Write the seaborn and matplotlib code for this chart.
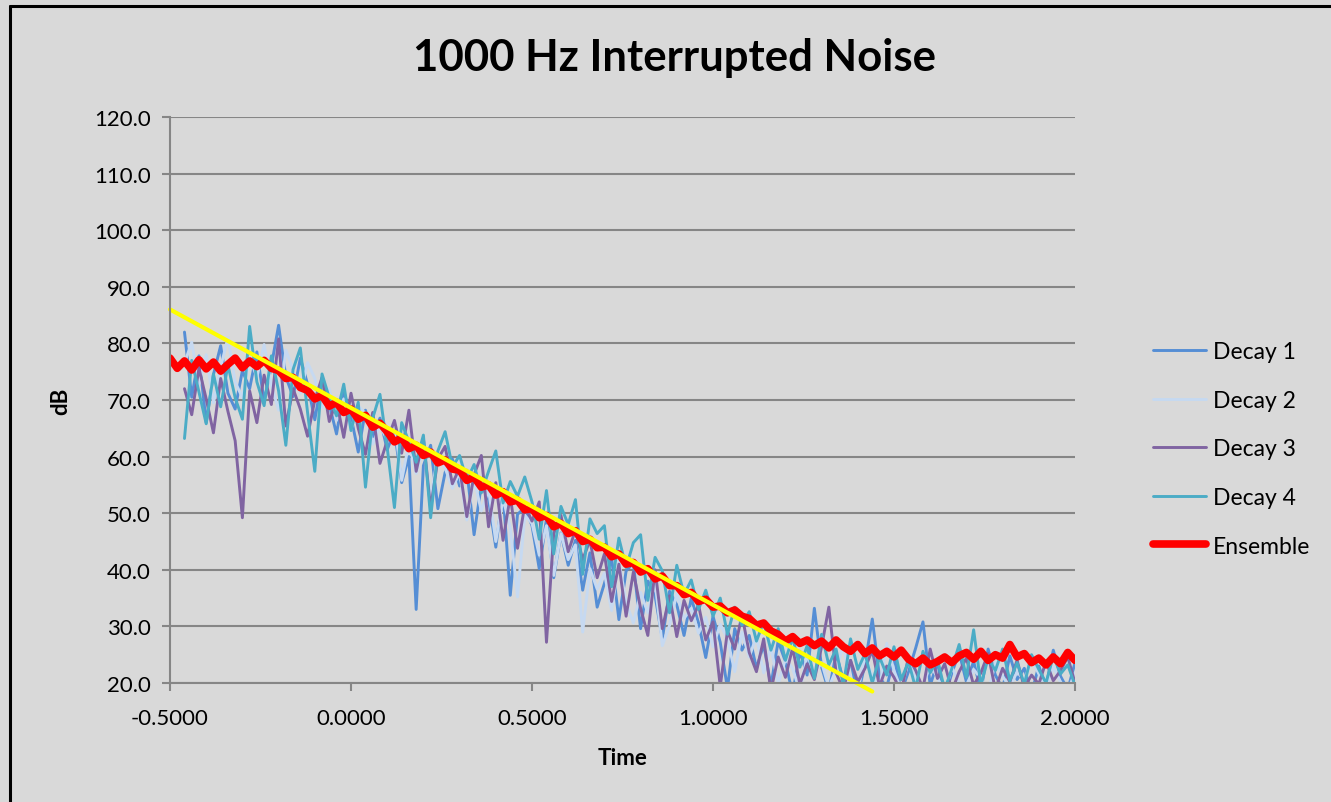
import numpy as np
import pandas as pd
import matplotlib
matplotlib.use("Agg")
import matplotlib.pyplot as plt
from matplotlib.lines import Line2D
from matplotlib.ticker import FormatStrFormatter
import seaborn as sns

# time grid (s), sampled every 0.02 s; the decays start at -0.46 s
time = np.round(np.arange(-0.50, 2.001, 0.02), 2)

decay_1 = [82.0, 70.5, 77.8, 66.0, 74.5, 79.6, 71.2, 68.4,
           75.2, 72.0, 78.5, 69.8, 76.0, 83.2, 74.1, 70.6, 77.4, 72.8,
           66.5, 73.8, 69.2, 64.0, 71.5, 67.0, 60.8, 68.2, 63.5, 66.8,
           61.2, 64.6, 55.4, 60.0, 33.0, 58.4, 62.0, 50.8, 57.2, 59.6,
           54.8, 57.6, 46.2, 55.0, 52.4, 44.0, 53.6, 35.5, 49.8, 51.0,
           47.8, 40.2, 49.0, 38.6, 46.5, 40.8, 45.2, 36.4, 43.0, 33.4,
           37.6, 42.0, 31.2, 39.8, 41.2, 29.6, 38.0, 35.4, 27.8, 36.2,
           33.8, 28.4, 35.0, 30.6, 24.5, 31.8, 27.2, 19.0, 29.6, 25.8,
           28.4, 22.6, 26.8, 19.5, 27.4, 23.8, 18.0, 25.6, 21.4, 33.2,
           22.8, 18.5, 25.2, 20.6, 24.0, 17.8, 23.4, 31.3, 21.0, 19.2,
           24.6, 18.4, 22.0, 26.2, 30.8, 19.6, 23.6, 17.5, 21.8, 25.4,
           20.2, 23.8, 18.6, 26.0, 21.4, 19.0, 24.8, 20.6, 22.6, 18.2,
           23.0, 19.4, 25.8, 21.2, 18.8, 23.6]

decay_2 = [76.5, 80.2, 72.8, 78.0, 69.5, 75.8, 81.0, 73.2,
           70.4, 77.6, 74.0, 79.8, 72.6, 68.2, 78.8, 75.4, 71.2, 76.6,
           73.8, 68.6, 72.0, 66.4, 70.2, 64.8, 69.0, 67.6, 62.2, 65.4,
           63.0, 66.2, 55.8, 62.4, 57.0, 61.8, 52.6, 60.2, 58.0, 54.4,
           57.2, 48.8, 56.0, 50.4, 54.2, 45.0, 52.6, 47.4, 35.2, 49.6,
           48.2, 42.6, 47.8, 39.0, 46.4, 41.8, 44.4, 29.0, 40.2, 36.6,
           39.4, 32.8, 41.6, 34.2, 30.6, 36.0, 32.4, 37.8, 26.6, 30.2,
           35.8, 31.4, 33.2, 28.8, 31.6, 26.4, 30.4, 27.8, 22.0, 29.0,
           24.6, 28.2, 21.8, 26.4, 19.8, 24.2, 22.6, 18.4, 25.0, 21.6,
           23.6, 19.2, 22.4, 26.6, 20.4, 18.6, 24.8, 21.2, 19.0, 27.0,
           22.2, 18.8, 24.0, 20.6, 19.4, 23.2, 21.0, 18.2, 22.8, 20.0,
           19.6, 22.4, 20.8, 18.4, 23.6, 21.2, 19.2, 22.0, 20.4, 24.2,
           21.6, 19.0, 22.8, 20.2, 18.6, 21.8]

decay_3 = [72.0, 67.4, 75.6, 70.2, 64.2, 73.8, 68.0, 62.8,
           49.2, 71.6, 66.0, 74.4, 69.2, 80.8, 65.4, 72.0, 68.4, 63.6,
           70.0, 74.0, 66.2, 69.8, 63.4, 71.2, 65.0, 60.4, 67.8, 58.8,
           62.8, 66.4, 60.6, 68.2, 57.4, 63.2, 50.8, 59.6, 61.8, 55.2,
           58.0, 49.4, 56.8, 60.2, 47.6, 55.4, 45.2, 53.0, 43.8, 51.4,
           48.6, 52.0, 27.2, 46.4, 49.6, 43.2, 47.0, 41.8, 45.2, 38.6,
           42.8, 34.4, 41.0, 31.8, 39.6, 33.2, 28.4, 40.0, 29.6, 35.4,
           28.2, 34.6, 31.0, 33.8, 27.6, 30.8, 19.4, 29.2, 26.0, 32.0,
           25.4, 22.0, 27.8, 18.6, 24.6, 21.0, 26.2, 19.8, 23.4, 20.6,
           26.4, 33.4, 21.8, 18.8, 24.0, 20.2, 22.6, 25.8, 19.4, 23.0,
           21.0, 18.4, 24.6, 22.2, 19.0, 26.0, 20.8, 23.4, 18.6, 22.0,
           24.4, 19.6, 21.8, 25.2, 18.8, 22.6, 20.2, 24.0, 19.2, 21.4,
           19.8, 23.8, 20.4, 22.2, 24.6, 20.0]

decay_4 = [63.2, 77.0, 71.4, 65.8, 74.6, 68.8, 76.2, 70.4,
           66.6, 83.0, 73.2, 69.0, 77.8, 71.6, 62.0, 75.4, 79.2, 67.8,
           57.4, 74.6, 70.4, 67.2, 72.8, 64.6, 69.6, 54.6, 66.8, 71.0,
           61.6, 51.0, 66.0, 62.6, 59.0, 63.8, 49.2, 61.0, 64.4, 58.2,
           60.2, 55.8, 58.6, 53.6, 57.4, 61.0, 51.8, 55.6, 53.0, 56.4,
           52.0, 45.4, 54.0, 42.8, 51.2, 48.0, 52.4, 39.2, 49.0, 46.4,
           47.8, 37.0, 45.6, 40.4, 44.8, 46.2, 34.6, 42.2, 39.8, 32.4,
           40.8, 35.6, 38.2, 33.0, 36.4, 31.8, 35.0, 28.6, 33.4, 30.2,
           32.6, 27.4, 30.8, 25.8, 29.6, 24.0, 28.0, 22.8, 26.6, 20.8,
           28.6, 23.2, 26.0, 19.6, 27.8, 22.4, 25.2, 20.0, 24.6, 21.4,
           26.4, 20.6, 23.8, 19.0, 25.6, 21.8, 24.2, 18.8, 22.6, 26.8,
           21.0, 29.4, 19.6, 24.4, 22.2, 26.0, 20.4, 23.6, 19.8, 25.0,
           22.4, 20.0, 24.8, 21.6, 23.2, 19.6]

ensemble = [77.4, 75.6, 76.9, 75.3, 77.1, 75.5, 76.7, 75.1, 76.3, 77.4,
            75.7, 76.9, 75.9, 77.0, 75.6, 75.2, 73.8, 74.0, 72.2, 71.7,
            70.2, 70.8, 68.9, 69.6, 67.8, 68.4, 66.6, 67.3, 65.2, 65.9,
            64.4, 62.6, 63.3, 61.4, 62.0, 60.2, 60.8, 58.9, 59.4, 57.8,
            57.6, 55.8, 56.4, 54.6, 55.0, 53.2, 53.8, 52.0, 52.3, 50.6,
            50.8, 49.2, 49.6, 47.6, 48.2, 46.4, 46.9, 45.0, 45.4, 43.9,
            44.0, 42.3, 42.8, 41.0, 41.3, 39.6, 40.2, 38.4, 38.9, 37.2,
            37.2, 35.6, 36.0, 34.4, 34.8, 33.4, 33.6, 32.4, 32.9, 31.8,
            31.4, 30.2, 30.6, 29.2, 28.6, 27.4, 28.2, 27.0, 27.6, 26.6,
            27.4, 26.2, 27.6, 26.4, 25.6, 26.8, 25.2, 26.2, 24.8, 25.6,
            24.6, 25.8, 24.2, 23.4, 24.4, 23.2, 23.8, 24.6, 23.6, 24.8,
            25.4, 24.2, 25.6, 24.0, 25.0, 24.4, 26.8, 24.6, 25.2, 23.6,
            24.4, 23.2, 24.6, 23.4, 25.4, 24.0]

# linear fit through the decay (end points)
fit_time = [-0.50, 1.44]
fit_db = [86.0, 18.5]

series_names = ["Decay 1", "Decay 2", "Decay 3", "Decay 4"]
series_colors = ["#558ED5", "#C6D9F1", "#8064A2", "#4BACC6"]

sns.set_style("white")
plt.rcParams["font.family"] = ["Lato", "DejaVu Sans"]
plt.rcParams["text.color"] = "black"
plt.rcParams["axes.labelcolor"] = "black"

bg = "#D9D9D9"
grid_col = "#868686"

fig = plt.figure(figsize=(13.31, 8.03), dpi=100, facecolor=bg)
ax = fig.add_axes([170 / 1331, 1 - 684 / 803, 905 / 1331, 566 / 803])
ax.set_facecolor(bg)

for name, vals, col in zip(series_names, [decay_1, decay_2, decay_3, decay_4], series_colors):
    df = pd.DataFrame({"Time": time[2:], "dB": vals})
    sns.lineplot(data=df, x="Time", y="dB", color=col, lw=2.1, label=name,
                 ax=ax, estimator=None, sort=False)

ens_df = pd.DataFrame({"Time": time, "dB": ensemble})
sns.lineplot(data=ens_df, x="Time", y="dB", color="#FF0000", lw=5.5,
             label="Ensemble", ax=ax, estimator=None, sort=False)

fit_df = pd.DataFrame({"Time": fit_time, "dB": fit_db})
sns.lineplot(data=fit_df, x="Time", y="dB", color="#FFFF00", lw=3.0,
             ax=ax, estimator=None, sort=False, legend=False)
ax.lines[-1].set_clip_on(False)

ax.set_xlim(-0.5, 2.0)
ax.set_ylim(20, 120)
ax.set_xticks(np.arange(-0.5, 2.01, 0.5))
ax.set_yticks(np.arange(20, 121, 10))
ax.xaxis.set_major_formatter(FormatStrFormatter("%.4f"))
ax.yaxis.set_major_formatter(FormatStrFormatter("%.1f"))
ax.grid(axis="y", color=grid_col, lw=1.5)
ax.grid(axis="x", visible=False)
ax.set_axisbelow(True)
for s in ["top", "right"]:
    ax.spines[s].set_visible(False)
for s in ["left", "bottom"]:
    ax.spines[s].set_color(grid_col)
    ax.spines[s].set_linewidth(1.5)
ax.tick_params(axis="both", direction="out", length=6, width=1.5, color=grid_col,
               labelsize=16, labelcolor="black", bottom=True, left=True)
ax.tick_params(axis="x", pad=12)
ax.tick_params(axis="y", pad=8)

ax.set_xlabel("Time", fontsize=16, fontweight="bold", labelpad=14, color="black")
ax.set_ylabel("dB", fontsize=16, fontweight="bold", labelpad=16, color="black")

fig.text(675 / 1331, 1 - 58 / 803, "1000 Hz Interrupted Noise", fontsize=31.5,
         fontweight="bold", ha="center", va="center", color="black")

leg = ax.legend(loc="center left", bbox_to_anchor=(1153 / 1331, 1 - 450 / 803),
                bbox_transform=fig.transFigure, frameon=False, fontsize=16.5,
                handlelength=2.3, handletextpad=0.3, labelspacing=1.2,
                borderaxespad=0, borderpad=0)
for t in leg.get_texts():
    t.set_color("black")

# chart border (top and left edges visible)
fig.add_artist(Line2D([10 / 1331, 10 / 1331], [0, 1 - 6.5 / 803], color="black", lw=2.2))
fig.add_artist(Line2D([10 / 1331, 1], [1 - 6.5 / 803, 1 - 6.5 / 803], color="black", lw=2.2))

fig.savefig("out.png", dpi=100, facecolor=bg)
